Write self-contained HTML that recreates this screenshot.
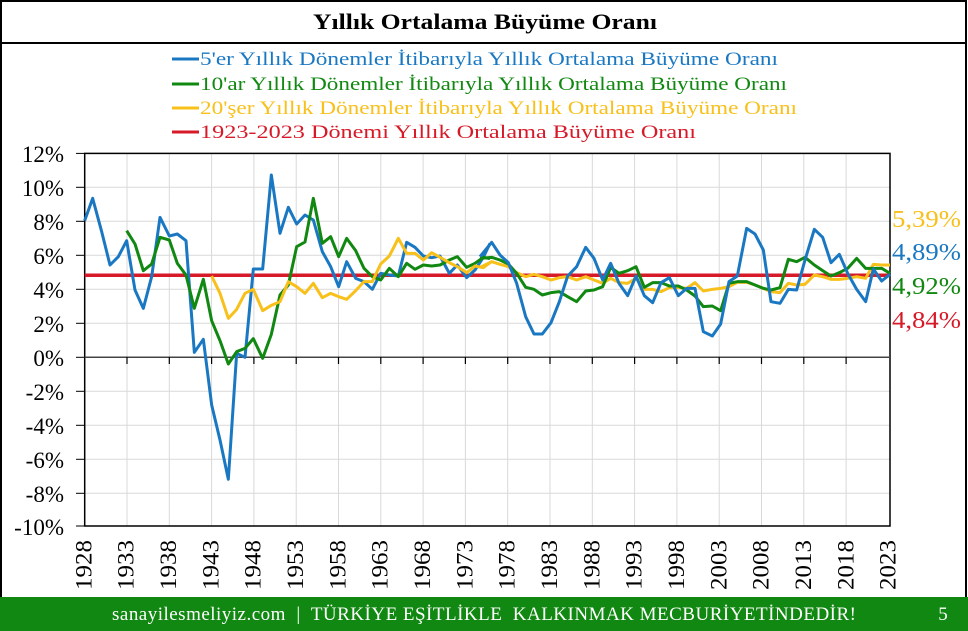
<!DOCTYPE html>
<html><head><meta charset="utf-8"><style>
html,body{margin:0;padding:0;background:#fff}
svg{display:block}
text{font-family:"Liberation Serif",serif}
</style></head><body>
<svg width="968" height="631" viewBox="0 0 968 631" xmlns="http://www.w3.org/2000/svg">
<rect x="0" y="0" width="968" height="631" fill="#fff"/>
<rect x="1" y="1" width="965" height="628" fill="none" stroke="#000" stroke-width="2"/>
<line x1="1" y1="43" x2="966" y2="43" stroke="#000" stroke-width="2"/>
<text x="313" y="29" font-size="22" font-weight="bold" fill="#000" textLength="344" lengthAdjust="spacingAndGlyphs">Yıllık Ortalama Büyüme Oranı</text>
<!-- legend -->
<g font-size="19">
<line x1="172" y1="59" x2="199" y2="59" stroke="#1a78c2" stroke-width="3"/>
<text x="200" y="65" fill="#1a78c2" textLength="578" lengthAdjust="spacingAndGlyphs">5'er Yıllık Dönemler İtibarıyla Yıllık Ortalama Büyüme Oranı</text>
<line x1="172" y1="84" x2="199" y2="84" stroke="#118811" stroke-width="3"/>
<text x="200" y="90" fill="#118811" textLength="587" lengthAdjust="spacingAndGlyphs">10'ar Yıllık Dönemler İtibarıyla Yıllık Ortalama Büyüme Oranı</text>
<line x1="172" y1="108" x2="199" y2="108" stroke="#f8c01a" stroke-width="3"/>
<text x="200" y="114" fill="#f8c01a" textLength="597" lengthAdjust="spacingAndGlyphs">20'şer Yıllık Dönemler İtibarıyla Yıllık Ortalama Büyüme Oranı</text>
<line x1="172" y1="132" x2="199" y2="132" stroke="#d71a28" stroke-width="3"/>
<text x="200" y="138" fill="#d71a28" textLength="496" lengthAdjust="spacingAndGlyphs">1923-2023 Dönemi Yıllık Ortalama Büyüme Oranı</text>
</g>
<!-- grid -->
<g stroke="#d9d9d9" stroke-width="1">
<line x1="84.7" y1="187.3" x2="890" y2="187.3"/><line x1="84.7" y1="221.3" x2="890" y2="221.3"/>
<line x1="84.7" y1="255.3" x2="890" y2="255.3"/><line x1="84.7" y1="289.3" x2="890" y2="289.3"/>
<line x1="84.7" y1="323.3" x2="890" y2="323.3"/><line x1="84.7" y1="391.3" x2="890" y2="391.3"/>
<line x1="84.7" y1="425.3" x2="890" y2="425.3"/><line x1="84.7" y1="459.3" x2="890" y2="459.3"/>
<line x1="84.7" y1="493.3" x2="890" y2="493.3"/>
<line x1="127" y1="153" x2="127" y2="526"/><line x1="169.3" y1="153" x2="169.3" y2="526"/>
<line x1="211.6" y1="153" x2="211.6" y2="526"/><line x1="253.9" y1="153" x2="253.9" y2="526"/>
<line x1="296.2" y1="153" x2="296.2" y2="526"/><line x1="338.5" y1="153" x2="338.5" y2="526"/>
<line x1="380.8" y1="153" x2="380.8" y2="526"/><line x1="423.1" y1="153" x2="423.1" y2="526"/>
<line x1="465.4" y1="153" x2="465.4" y2="526"/><line x1="507.7" y1="153" x2="507.7" y2="526"/>
<line x1="550" y1="153" x2="550" y2="526"/><line x1="592.3" y1="153" x2="592.3" y2="526"/>
<line x1="634.6" y1="153" x2="634.6" y2="526"/><line x1="676.9" y1="153" x2="676.9" y2="526"/>
<line x1="719.2" y1="153" x2="719.2" y2="526"/><line x1="761.5" y1="153" x2="761.5" y2="526"/>
<line x1="803.8" y1="153" x2="803.8" y2="526"/><line x1="846.1" y1="153" x2="846.1" y2="526"/>
</g>
<rect x="84.7" y="153.4" width="805.3" height="372.6" fill="none" stroke="#000" stroke-width="1.5"/>
<g stroke="#000" stroke-width="1">
<line x1="76" y1="153.4" x2="84.7" y2="153.4"/><line x1="76" y1="187.3" x2="84.7" y2="187.3"/>
<line x1="76" y1="221.3" x2="84.7" y2="221.3"/><line x1="76" y1="255.3" x2="84.7" y2="255.3"/>
<line x1="76" y1="289.3" x2="84.7" y2="289.3"/><line x1="76" y1="323.3" x2="84.7" y2="323.3"/>
<line x1="76" y1="357.3" x2="84.7" y2="357.3"/><line x1="76" y1="391.3" x2="84.7" y2="391.3"/>
<line x1="76" y1="425.3" x2="84.7" y2="425.3"/><line x1="76" y1="459.3" x2="84.7" y2="459.3"/>
<line x1="76" y1="493.3" x2="84.7" y2="493.3"/><line x1="76" y1="526" x2="84.7" y2="526"/>
</g>
<line x1="84.7" y1="357.3" x2="890" y2="357.3" stroke="#444" stroke-width="1.5"/>
<g stroke="#000" stroke-width="1.2">
<line x1="127" y1="357" x2="127" y2="364"/><line x1="169.3" y1="357" x2="169.3" y2="364"/>
<line x1="211.6" y1="357" x2="211.6" y2="364"/><line x1="253.9" y1="357" x2="253.9" y2="364"/>
<line x1="296.2" y1="357" x2="296.2" y2="364"/><line x1="338.5" y1="357" x2="338.5" y2="364"/>
<line x1="380.8" y1="357" x2="380.8" y2="364"/><line x1="423.1" y1="357" x2="423.1" y2="364"/>
<line x1="465.4" y1="357" x2="465.4" y2="364"/><line x1="507.7" y1="357" x2="507.7" y2="364"/>
<line x1="550" y1="357" x2="550" y2="364"/><line x1="592.3" y1="357" x2="592.3" y2="364"/>
<line x1="634.6" y1="357" x2="634.6" y2="364"/><line x1="676.9" y1="357" x2="676.9" y2="364"/>
<line x1="719.2" y1="357" x2="719.2" y2="364"/><line x1="761.5" y1="357" x2="761.5" y2="364"/>
<line x1="803.8" y1="357" x2="803.8" y2="364"/><line x1="846.1" y1="357" x2="846.1" y2="364"/>
</g>
<g font-size="23" text-anchor="end" fill="#000">
<text x="64" y="162">12%</text><text x="64" y="196">10%</text><text x="64" y="230">8%</text>
<text x="64" y="264">6%</text><text x="64" y="298">4%</text><text x="64" y="332">2%</text>
<text x="64" y="366">0%</text><text x="64" y="400">-2%</text><text x="64" y="434">-4%</text>
<text x="64" y="468">-6%</text><text x="64" y="502">-8%</text><text x="64" y="535">-10%</text>
</g>
<g font-size="23" fill="#000" text-anchor="start">
<text transform="translate(91.5,590) rotate(-90)" textLength="50" lengthAdjust="spacingAndGlyphs">1928</text>
<text transform="translate(133.5,590) rotate(-90)" textLength="50" lengthAdjust="spacingAndGlyphs">1933</text>
<text transform="translate(176,590) rotate(-90)" textLength="50" lengthAdjust="spacingAndGlyphs">1938</text>
<text transform="translate(218.5,590) rotate(-90)" textLength="50" lengthAdjust="spacingAndGlyphs">1943</text>
<text transform="translate(260.5,590) rotate(-90)" textLength="50" lengthAdjust="spacingAndGlyphs">1948</text>
<text transform="translate(303,590) rotate(-90)" textLength="50" lengthAdjust="spacingAndGlyphs">1953</text>
<text transform="translate(345.5,590) rotate(-90)" textLength="50" lengthAdjust="spacingAndGlyphs">1958</text>
<text transform="translate(387.5,590) rotate(-90)" textLength="50" lengthAdjust="spacingAndGlyphs">1963</text>
<text transform="translate(430,590) rotate(-90)" textLength="50" lengthAdjust="spacingAndGlyphs">1968</text>
<text transform="translate(472.5,590) rotate(-90)" textLength="50" lengthAdjust="spacingAndGlyphs">1973</text>
<text transform="translate(514.5,590) rotate(-90)" textLength="50" lengthAdjust="spacingAndGlyphs">1978</text>
<text transform="translate(557,590) rotate(-90)" textLength="50" lengthAdjust="spacingAndGlyphs">1983</text>
<text transform="translate(599.5,590) rotate(-90)" textLength="50" lengthAdjust="spacingAndGlyphs">1988</text>
<text transform="translate(641.5,590) rotate(-90)" textLength="50" lengthAdjust="spacingAndGlyphs">1993</text>
<text transform="translate(684,590) rotate(-90)" textLength="50" lengthAdjust="spacingAndGlyphs">1998</text>
<text transform="translate(726.5,590) rotate(-90)" textLength="50" lengthAdjust="spacingAndGlyphs">2003</text>
<text transform="translate(768.5,590) rotate(-90)" textLength="50" lengthAdjust="spacingAndGlyphs">2008</text>
<text transform="translate(811,590) rotate(-90)" textLength="50" lengthAdjust="spacingAndGlyphs">2013</text>
<text transform="translate(853.5,590) rotate(-90)" textLength="50" lengthAdjust="spacingAndGlyphs">2018</text>
<text transform="translate(895.5,590) rotate(-90)" textLength="50" lengthAdjust="spacingAndGlyphs">2023</text>
</g>
<g fill="none" stroke-width="3" stroke-linejoin="round">
<line x1="84.7" y1="275.3" x2="890" y2="275.3" stroke="#d71a28" stroke-width="3.5"/>
<g transform="translate(70,150) scale(0.33333)">
<polyline vector-effect="non-scaling-stroke" stroke="#1a78c2" points="44,212 68,145 95,245 120,345 145,320 170,272 195,420 220,475 245,380 270,202 298,258 322,252 348,272 373,607 400,568 425,765 450,870 475,988 500,610 525,622 550,357 578,357 604,75 630,250 655,172 680,222 705,195 730,210 757,305 782,350 806,410 830,335 857,385 882,395 907,418 932,370 958,375 985,378 1010,277 1035,292 1060,318 1085,323 1110,318 1138,370 1162,345 1190,383 1215,360 1240,322 1260,280"/>
<polyline vector-effect="non-scaling-stroke" stroke="#118811" points="170,242 195,282 220,362 245,342 270,262 298,270 322,340 348,375 373,475 400,388 425,512 450,572 475,642 500,605 525,595 550,566 578,625 604,553 630,435 655,405 680,290 705,276 730,145 757,280 782,260 806,320 830,265 857,302 882,355 907,380 932,390 958,355 985,380 1010,340 1035,358 1060,345 1085,348 1110,345 1138,330 1162,320 1190,352 1215,340 1240,322 1260,326"/>
<polyline vector-effect="non-scaling-stroke" stroke="#f8c01a" points="425,378 450,430 475,505 500,478 525,430 550,418 578,482 604,466 630,455 655,395 680,410 705,430 730,400 757,443 782,430 806,440 830,448 857,422 882,395 907,395 932,342 958,318 985,265 1010,310 1035,310 1060,330 1085,308 1110,322 1138,338 1162,350 1190,368 1215,348 1240,353 1260,338"/>
</g>
<g transform="translate(480,150) scale(0.33333)">
<polyline vector-effect="non-scaling-stroke" stroke="#f8c01a" points="0,352 35,335 60,343 85,350 110,368 137,380 162,373 187,380 213,390 238,383 263,380 290,390 317,380 342,390 368,400 392,385 417,398 443,400 468,385 493,418 518,418 543,425 568,413 595,412 620,415 645,398 670,423 697,418 722,415 747,410 772,397 800,397 825,405 850,415 873,425 900,428 925,400 950,405 975,403 1003,375 1028,380 1053,388 1078,388 1103,385 1130,380 1157,385 1180,343 1205,345 1230,345"/>
<polyline vector-effect="non-scaling-stroke" stroke="#118811" points="0,325 35,322 60,330 85,342 110,370 137,412 162,418 187,435 213,428 238,425 263,440 290,455 317,423 342,420 368,410 392,352 417,370 443,362 468,350 493,412 518,398 543,398 568,408 595,408 620,420 645,438 670,470 697,468 722,482 747,400 772,395 800,395 825,405 850,415 873,420 900,413 925,328 950,335 975,322 1003,345 1028,362 1053,378 1078,368 1103,355 1130,325 1157,355 1180,355 1205,355 1230,370"/>
<polyline vector-effect="non-scaling-stroke" stroke="#1a78c2" points="0,320 35,277 60,315 85,338 110,400 137,500 162,552 187,552 213,518 238,455 263,378 290,350 317,292 342,325 368,390 392,340 417,400 443,437 468,378 493,437 518,458 543,398 568,383 595,437 620,415 645,415 670,545 697,558 722,522 747,395 772,378 800,235 825,252 850,300 873,455 900,460 925,418 950,420 975,330 1003,238 1028,262 1053,338 1078,313 1103,370 1130,418 1157,455 1180,357 1205,393 1230,373"/>
</g>
</g>
<g font-size="24">
<text x="892" y="227" fill="#f8c01a" textLength="69" lengthAdjust="spacingAndGlyphs">5,39%</text>
<text x="892" y="260" fill="#1a78c2" textLength="69" lengthAdjust="spacingAndGlyphs">4,89%</text>
<text x="892" y="294" fill="#118811" textLength="69" lengthAdjust="spacingAndGlyphs">4,92%</text>
<text x="892" y="328" fill="#d71a28" textLength="69" lengthAdjust="spacingAndGlyphs">4,84%</text>
</g>
<rect x="0" y="597" width="968" height="34" fill="#118811"/>
<text x="112" y="620" font-size="19" fill="#fff" textLength="744" lengthAdjust="spacing" xml:space="preserve">sanayilesmeliyiz.com  |  TÜRKİYE EŞİTLİKLE  KALKINMAK MECBURİYETİNDEDİR!</text>
<text x="943" y="620" font-size="19" fill="#fff" text-anchor="middle">5</text>
</svg>
</body></html>
